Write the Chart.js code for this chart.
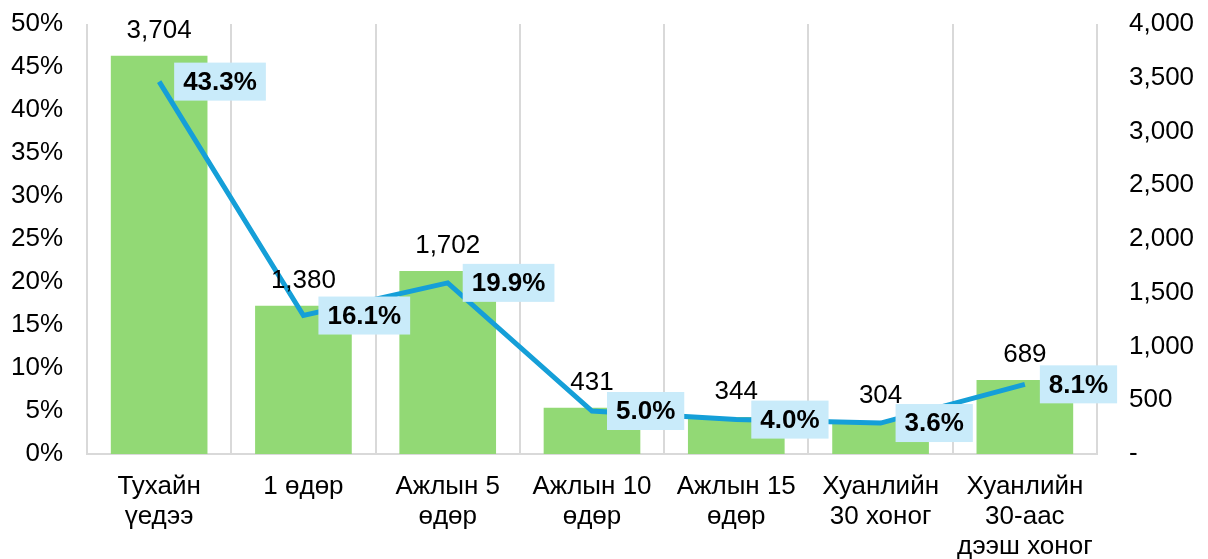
<!DOCTYPE html>
<html>
<head>
<meta charset="utf-8">
<script src="https://cdn.jsdelivr.net/npm/chart.js@4"></script>
<style>
  body { margin: 0; background: #fff; }
</style>
</head>
<body>
<canvas id="chart" width="1208" height="559"></canvas>
<script>
// Өгөгдөл
var categories = [
    ['Тухайн', 'үедээ'],
    ['1 өдөр'],
    ['Ажлын 5', 'өдөр'],
    ['Ажлын 10', 'өдөр'],
    ['Ажлын 15', 'өдөр'],
    ['Хуанлийн', '30 хоног'],
    ['Хуанлийн', '30-аас', 'дээш хоног']
];
var counts = [3704, 1380, 1702, 431, 344, 304, 689];
var shares = [43.3, 16.1, 19.9, 5.0, 4.0, 3.6, 8.1];

var FONT = "'Liberation Sans', Arial, sans-serif";

function formatCount(v) {
    if (v === 0) return '-';
    return v.toLocaleString('en-US');
}

// Шошго зурах plugin
var labelPlugin = {
    id: 'labels',
    afterDatasetsDraw: function (chart) {
        var ctx = chart.ctx;
        ctx.save();
        // баганын шошго
        var barMeta = chart.getDatasetMeta(1);
        ctx.font = '26px ' + FONT;
        ctx.fillStyle = '#000';
        ctx.textAlign = 'center';
        ctx.textBaseline = 'middle';
        barMeta.data.forEach(function (bar, i) {
            ctx.fillText(formatCount(counts[i]), bar.x, bar.y - 25);
        });
        // шугамын шошго
        var lineMeta = chart.getDatasetMeta(0);
        ctx.font = 'bold 26px ' + FONT;
        ctx.textAlign = 'left';
        lineMeta.data.forEach(function (pt, i) {
            var txt = shares[i].toFixed(1) + '%';
            var w = ctx.measureText(txt).width;
            var bx = pt.x + 15;
            var bh = 38;
            ctx.fillStyle = '#c9ebfa';
            ctx.fillRect(bx, pt.y - bh / 2, w + 18, bh);
            ctx.fillStyle = '#000';
            ctx.fillText(txt, bx + 9, pt.y + 1);
        });
        ctx.restore();
    }
};

function fitY(width) {
    return function (s) {
        s.width = width;
        s.paddingTop = 0;
        s.paddingBottom = 0;
    };
}

var ctx = document.getElementById('chart').getContext('2d');
new Chart(ctx, {
    data: {
        labels: categories,
        datasets: [
            {
                type: 'line',
                label: 'Хувь',
                data: shares,
                yAxisID: 'y',
                borderColor: '#159fd8',
                borderWidth: 5,
                pointRadius: 0,
                tension: 0,
                order: 0
            },
            {
                type: 'bar',
                label: 'Тоо',
                data: counts,
                yAxisID: 'y1',
                backgroundColor: '#92d975',
                barPercentage: 0.67,
                categoryPercentage: 1,
                order: 1
            }
        ]
    },
    options: {
        responsive: false,
        animation: false,
        layout: { padding: { top: 24, left: 0, right: 0, bottom: 0 } },
        plugins: {
            legend: { display: false },
            tooltip: { enabled: false }
        },
        scales: {
            x: {
                offset: true,
                grid: {
                    offset: true,
                    color: '#d9d9d9',
                    lineWidth: 2,
                    drawTicks: false
                },
                border: { color: '#d9d9d9', width: 2 },
                ticks: {
                    color: '#000',
                    font: { family: FONT, size: 26, lineHeight: 1.15 },
                    padding: 18,
                    maxRotation: 0,
                    autoSkip: false
                },
                afterFit: function (s) { s.height = 105; }
            },
            y: {
                position: 'left',
                min: 0,
                max: 50,
                grid: { display: false },
                border: { display: false },
                ticks: {
                    stepSize: 5,
                    color: '#000',
                    padding: 16,
                    font: { family: FONT, size: 26 },
                    callback: function (v) { return v + '%'; }
                },
                afterFit: fitY(87)
            },
            y1: {
                position: 'right',
                min: 0,
                max: 4000,
                grid: { display: false },
                border: { display: false },
                ticks: {
                    stepSize: 500,
                    color: '#000',
                    padding: 24,
                    font: { family: FONT, size: 26 },
                    callback: function (v) { return formatCount(v); }
                },
                afterFit: fitY(111)
            }
        }
    },
    plugins: [labelPlugin]
});
</script>
</body>
</html>
